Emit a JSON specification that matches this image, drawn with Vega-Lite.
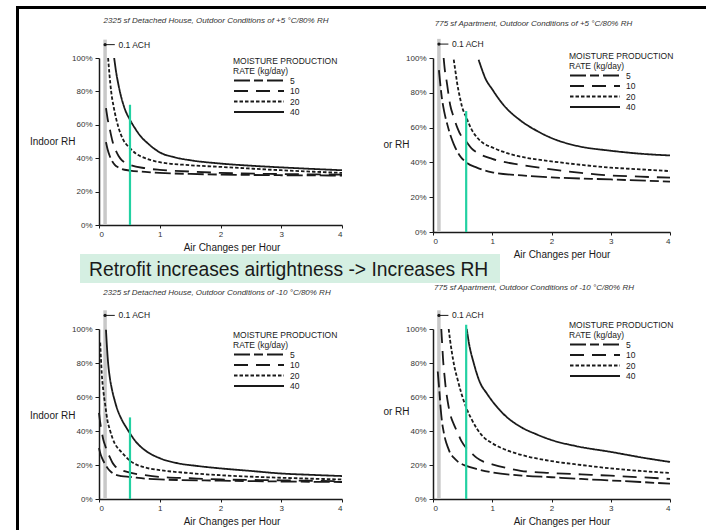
{
"$schema": "https://vega.github.io/schema/vega-lite/v6.json",
"padding": {"left": 16, "top": 6, "right": 0, "bottom": 0},
"background": "white",
"config": {
  "font": "Liberation Sans",
  "view": {"stroke": null},
  "axis": {"grid": false, "labelOverlap": false, "domainColor": "#1a1a1a", "domainWidth": 1.5, "tickColor": "#1a1a1a", "tickWidth": 1, "labelFontSize": 8, "labelColor": "#333333", "titleFontSize": 10, "titleFontWeight": "normal", "titleColor": "#1a1a1a"},
  "axisX": {"tickSize": 3, "labelPadding": 2, "titlePadding": 4},
  "axisY": {"tickSize": 4, "labelPadding": 3, "titleAngle": 0, "titleAlign": "right", "titleBaseline": "middle"},
  "legend": {"orient": "none", "padding": 0, "titleFontSize": 8.5, "titleFontWeight": "normal", "titleColor": "#1a1a1a", "titleLineHeight": 10, "titlePadding": 0, "labelFontSize": 8.5, "labelColor": "#1a1a1a", "labelOffset": 47, "symbolType": "M-1,0H11.5", "symbolSize": 64, "symbolStrokeWidth": 1.8, "symbolStrokeColor": "#1a1a1a", "rowPadding": 0.5},
  "title": {"fontSize": 8, "fontStyle": "italic", "fontWeight": "normal", "color": "#333333", "anchor": "middle", "frame": "group"}
},
"datasets": {
  "p1": [
    {"rate":"40","ach":0.25,"rh":1.0},{"rate":"40","ach":0.28,"rh":0.92},{"rate":"40","ach":0.32,"rh":0.84},{"rate":"40","ach":0.37,"rh":0.76},{"rate":"40","ach":0.43,"rh":0.69},{"rate":"40","ach":0.51,"rh":0.63},{"rate":"40","ach":0.6,"rh":0.575},{"rate":"40","ach":0.7,"rh":0.525},{"rate":"40","ach":0.8,"rh":0.49},{"rate":"40","ach":1.0,"rh":0.435},{"rate":"40","ach":1.25,"rh":0.405},{"rate":"40","ach":1.5,"rh":0.388},{"rate":"40","ach":2.0,"rh":0.368},{"rate":"40","ach":2.5,"rh":0.355},{"rate":"40","ach":3.0,"rh":0.345},{"rate":"40","ach":3.5,"rh":0.336},{"rate":"40","ach":4.0,"rh":0.328},
    {"rate":"20","ach":0.15,"rh":1.0},{"rate":"20","ach":0.17,"rh":0.91},{"rate":"20","ach":0.2,"rh":0.8},{"rate":"20","ach":0.24,"rh":0.71},{"rate":"20","ach":0.28,"rh":0.64},{"rate":"20","ach":0.32,"rh":0.585},{"rate":"20","ach":0.4,"rh":0.51},{"rate":"20","ach":0.51,"rh":0.46},{"rate":"20","ach":0.6,"rh":0.43},{"rate":"20","ach":0.76,"rh":0.4},{"rate":"20","ach":1.0,"rh":0.376},{"rate":"20","ach":1.5,"rh":0.358},{"rate":"20","ach":2.0,"rh":0.348},{"rate":"20","ach":3.0,"rh":0.328},{"rate":"20","ach":4.0,"rh":0.312},
    {"rate":"10","ach":0.115,"rh":0.7},{"rate":"10","ach":0.14,"rh":0.64},{"rate":"10","ach":0.18,"rh":0.57},{"rate":"10","ach":0.22,"rh":0.505},{"rate":"10","ach":0.26,"rh":0.46},{"rate":"10","ach":0.32,"rh":0.415},{"rate":"10","ach":0.37,"rh":0.39},{"rate":"10","ach":0.45,"rh":0.37},{"rate":"10","ach":0.51,"rh":0.36},{"rate":"10","ach":0.76,"rh":0.34},{"rate":"10","ach":1.0,"rh":0.33},{"rate":"10","ach":1.5,"rh":0.32},{"rate":"10","ach":2.0,"rh":0.312},{"rate":"10","ach":3.0,"rh":0.305},{"rate":"10","ach":4.0,"rh":0.302},
    {"rate":"5","ach":0.115,"rh":0.496},{"rate":"5","ach":0.14,"rh":0.455},{"rate":"5","ach":0.18,"rh":0.41},{"rate":"5","ach":0.22,"rh":0.38},{"rate":"5","ach":0.26,"rh":0.36},{"rate":"5","ach":0.32,"rh":0.345},{"rate":"5","ach":0.37,"rh":0.336},{"rate":"5","ach":0.51,"rh":0.326},{"rate":"5","ach":0.76,"rh":0.318},{"rate":"5","ach":1.0,"rh":0.312},{"rate":"5","ach":1.5,"rh":0.306},{"rate":"5","ach":2.0,"rh":0.302},{"rate":"5","ach":3.0,"rh":0.298},{"rate":"5","ach":4.0,"rh":0.296}
  ],
  "p2": [
    {"rate":"40","ach":0.77,"rh":0.99},{"rate":"40","ach":0.82,"rh":0.94},{"rate":"40","ach":0.88,"rh":0.886},{"rate":"40","ach":1.0,"rh":0.82},{"rate":"40","ach":1.19,"rh":0.73},{"rate":"40","ach":1.48,"rh":0.64},{"rate":"40","ach":1.76,"rh":0.58},{"rate":"40","ach":2.0,"rh":0.54},{"rate":"40","ach":2.43,"rh":0.495},{"rate":"40","ach":3.0,"rh":0.467},{"rate":"40","ach":3.5,"rh":0.45},{"rate":"40","ach":4.0,"rh":0.44},
    {"rate":"20","ach":0.35,"rh":0.99},{"rate":"20","ach":0.38,"rh":0.92},{"rate":"20","ach":0.41,"rh":0.85},{"rate":"20","ach":0.45,"rh":0.78},{"rate":"20","ach":0.49,"rh":0.72},{"rate":"20","ach":0.56,"rh":0.66},{"rate":"20","ach":0.65,"rh":0.59},{"rate":"20","ach":0.74,"rh":0.545},{"rate":"20","ach":0.85,"rh":0.51},{"rate":"20","ach":1.0,"rh":0.486},{"rate":"20","ach":1.3,"rh":0.448},{"rate":"20","ach":1.6,"rh":0.425},{"rate":"20","ach":2.0,"rh":0.406},{"rate":"20","ach":2.5,"rh":0.386},{"rate":"20","ach":3.0,"rh":0.37},{"rate":"20","ach":3.5,"rh":0.36},{"rate":"20","ach":4.0,"rh":0.35},
    {"rate":"10","ach":0.18,"rh":1.0},{"rate":"10","ach":0.2,"rh":0.93},{"rate":"10","ach":0.23,"rh":0.867},{"rate":"10","ach":0.29,"rh":0.73},{"rate":"10","ach":0.35,"rh":0.66},{"rate":"10","ach":0.41,"rh":0.6},{"rate":"10","ach":0.48,"rh":0.55},{"rate":"10","ach":0.56,"rh":0.52},{"rate":"10","ach":0.65,"rh":0.48},{"rate":"10","ach":0.74,"rh":0.457},{"rate":"10","ach":1.0,"rh":0.42},{"rate":"10","ach":1.5,"rh":0.385},{"rate":"10","ach":2.0,"rh":0.36},{"rate":"10","ach":2.5,"rh":0.34},{"rate":"10","ach":3.0,"rh":0.325},{"rate":"10","ach":3.5,"rh":0.318},{"rate":"10","ach":4.0,"rh":0.312},
    {"rate":"5","ach":0.1,"rh":0.93},{"rate":"5","ach":0.12,"rh":0.86},{"rate":"5","ach":0.15,"rh":0.77},{"rate":"5","ach":0.19,"rh":0.69},{"rate":"5","ach":0.24,"rh":0.62},{"rate":"5","ach":0.3,"rh":0.55},{"rate":"5","ach":0.35,"rh":0.505},{"rate":"5","ach":0.45,"rh":0.44},{"rate":"5","ach":0.56,"rh":0.4},{"rate":"5","ach":0.74,"rh":0.37},{"rate":"5","ach":1.0,"rh":0.343},{"rate":"5","ach":1.5,"rh":0.325},{"rate":"5","ach":2.0,"rh":0.314},{"rate":"5","ach":3.0,"rh":0.302},{"rate":"5","ach":4.0,"rh":0.29}
  ],
  "p3": [
    {"rate":"40","ach":0.115,"rh":0.996},{"rate":"40","ach":0.13,"rh":0.9},{"rate":"40","ach":0.15,"rh":0.8},{"rate":"40","ach":0.18,"rh":0.71},{"rate":"40","ach":0.21,"rh":0.65},{"rate":"40","ach":0.25,"rh":0.59},{"rate":"40","ach":0.29,"rh":0.54},{"rate":"40","ach":0.37,"rh":0.47},{"rate":"40","ach":0.45,"rh":0.42},{"rate":"40","ach":0.51,"rh":0.386},{"rate":"40","ach":0.6,"rh":0.34},{"rate":"40","ach":0.76,"rh":0.286},{"rate":"40","ach":1.0,"rh":0.24},{"rate":"40","ach":1.3,"rh":0.21},{"rate":"40","ach":1.6,"rh":0.195},{"rate":"40","ach":2.0,"rh":0.18},{"rate":"40","ach":2.5,"rh":0.165},{"rate":"40","ach":3.0,"rh":0.15},{"rate":"40","ach":3.5,"rh":0.142},{"rate":"40","ach":4.0,"rh":0.135},
    {"rate":"20","ach":0.02,"rh":0.92},{"rate":"20","ach":0.045,"rh":0.74},{"rate":"20","ach":0.07,"rh":0.64},{"rate":"20","ach":0.1,"rh":0.56},{"rate":"20","ach":0.14,"rh":0.46},{"rate":"20","ach":0.18,"rh":0.406},{"rate":"20","ach":0.22,"rh":0.36},{"rate":"20","ach":0.26,"rh":0.326},{"rate":"20","ach":0.32,"rh":0.295},{"rate":"20","ach":0.37,"rh":0.276},{"rate":"20","ach":0.45,"rh":0.245},{"rate":"20","ach":0.51,"rh":0.225},{"rate":"20","ach":0.6,"rh":0.205},{"rate":"20","ach":0.76,"rh":0.185},{"rate":"20","ach":1.0,"rh":0.17},{"rate":"20","ach":1.5,"rh":0.152},{"rate":"20","ach":2.0,"rh":0.14},{"rate":"20","ach":3.0,"rh":0.125},{"rate":"20","ach":4.0,"rh":0.115},
    {"rate":"10","ach":0.0,"rh":0.507},{"rate":"10","ach":0.02,"rh":0.45},{"rate":"10","ach":0.045,"rh":0.396},{"rate":"10","ach":0.07,"rh":0.35},{"rate":"10","ach":0.1,"rh":0.316},{"rate":"10","ach":0.14,"rh":0.275},{"rate":"10","ach":0.18,"rh":0.245},{"rate":"10","ach":0.22,"rh":0.215},{"rate":"10","ach":0.26,"rh":0.195},{"rate":"10","ach":0.37,"rh":0.17},{"rate":"10","ach":0.51,"rh":0.155},{"rate":"10","ach":0.76,"rh":0.14},{"rate":"10","ach":1.0,"rh":0.13},{"rate":"10","ach":1.5,"rh":0.122},{"rate":"10","ach":2.0,"rh":0.115},{"rate":"10","ach":3.0,"rh":0.11},{"rate":"10","ach":4.0,"rh":0.105},
    {"rate":"5","ach":0.0,"rh":0.3},{"rate":"5","ach":0.02,"rh":0.27},{"rate":"5","ach":0.045,"rh":0.245},{"rate":"5","ach":0.07,"rh":0.225},{"rate":"5","ach":0.1,"rh":0.205},{"rate":"5","ach":0.14,"rh":0.182},{"rate":"5","ach":0.18,"rh":0.165},{"rate":"5","ach":0.26,"rh":0.145},{"rate":"5","ach":0.37,"rh":0.135},{"rate":"5","ach":0.51,"rh":0.13},{"rate":"5","ach":0.76,"rh":0.12},{"rate":"5","ach":1.0,"rh":0.115},{"rate":"5","ach":2.0,"rh":0.108},{"rate":"5","ach":3.0,"rh":0.103},{"rate":"5","ach":4.0,"rh":0.1}
  ],
  "p4": [
    {"rate":"40","ach":0.57,"rh":1.0},{"rate":"40","ach":0.6,"rh":0.93},{"rate":"40","ach":0.69,"rh":0.796},{"rate":"40","ach":0.8,"rh":0.68},{"rate":"40","ach":0.9,"rh":0.625},{"rate":"40","ach":1.0,"rh":0.576},{"rate":"40","ach":1.19,"rh":0.5},{"rate":"40","ach":1.48,"rh":0.424},{"rate":"40","ach":1.75,"rh":0.38},{"rate":"40","ach":2.0,"rh":0.347},{"rate":"40","ach":2.43,"rh":0.31},{"rate":"40","ach":3.0,"rh":0.277},{"rate":"40","ach":3.56,"rh":0.242},{"rate":"40","ach":4.0,"rh":0.218},
    {"rate":"20","ach":0.265,"rh":1.0},{"rate":"20","ach":0.29,"rh":0.93},{"rate":"20","ach":0.32,"rh":0.86},{"rate":"20","ach":0.36,"rh":0.78},{"rate":"20","ach":0.41,"rh":0.71},{"rate":"20","ach":0.48,"rh":0.62},{"rate":"20","ach":0.56,"rh":0.538},{"rate":"20","ach":0.65,"rh":0.47},{"rate":"20","ach":0.74,"rh":0.414},{"rate":"20","ach":0.85,"rh":0.365},{"rate":"20","ach":1.0,"rh":0.328},{"rate":"20","ach":1.3,"rh":0.28},{"rate":"20","ach":1.6,"rh":0.25},{"rate":"20","ach":2.0,"rh":0.223},{"rate":"20","ach":2.5,"rh":0.2},{"rate":"20","ach":3.0,"rh":0.18},{"rate":"20","ach":3.5,"rh":0.165},{"rate":"20","ach":4.0,"rh":0.153},
    {"rate":"10","ach":0.14,"rh":1.0},{"rate":"10","ach":0.155,"rh":0.91},{"rate":"10","ach":0.17,"rh":0.82},{"rate":"10","ach":0.19,"rh":0.74},{"rate":"10","ach":0.21,"rh":0.67},{"rate":"10","ach":0.25,"rh":0.57},{"rate":"10","ach":0.29,"rh":0.5},{"rate":"10","ach":0.35,"rh":0.44},{"rate":"10","ach":0.41,"rh":0.395},{"rate":"10","ach":0.48,"rh":0.34},{"rate":"10","ach":0.56,"rh":0.3},{"rate":"10","ach":0.65,"rh":0.27},{"rate":"10","ach":0.74,"rh":0.242},{"rate":"10","ach":0.85,"rh":0.22},{"rate":"10","ach":1.0,"rh":0.204},{"rate":"10","ach":1.25,"rh":0.182},{"rate":"10","ach":1.48,"rh":0.166},{"rate":"10","ach":2.0,"rh":0.153},{"rate":"10","ach":2.5,"rh":0.145},{"rate":"10","ach":3.0,"rh":0.137},{"rate":"10","ach":3.5,"rh":0.128},{"rate":"10","ach":4.0,"rh":0.118},
    {"rate":"5","ach":0.08,"rh":0.75},{"rate":"5","ach":0.11,"rh":0.624},{"rate":"5","ach":0.13,"rh":0.53},{"rate":"5","ach":0.15,"rh":0.46},{"rate":"5","ach":0.18,"rh":0.395},{"rate":"5","ach":0.21,"rh":0.347},{"rate":"5","ach":0.25,"rh":0.305},{"rate":"5","ach":0.29,"rh":0.27},{"rate":"5","ach":0.35,"rh":0.243},{"rate":"5","ach":0.41,"rh":0.223},{"rate":"5","ach":0.48,"rh":0.207},{"rate":"5","ach":0.56,"rh":0.195},{"rate":"5","ach":0.74,"rh":0.176},{"rate":"5","ach":1.0,"rh":0.156},{"rate":"5","ach":1.5,"rh":0.138},{"rate":"5","ach":2.0,"rh":0.128},{"rate":"5","ach":2.5,"rh":0.118},{"rate":"5","ach":3.0,"rh":0.109},{"rate":"5","ach":3.5,"rh":0.1},{"rate":"5","ach":4.0,"rh":0.09}
  ]
},
"columns": 7,
"spacing": 0,
"bounds": "flush",
"resolve": {"scale": {"strokeDash": "independent"}, "legend": {"strokeDash": "independent"}},
"concat": [
  {"width": 3, "height": 3, "view": {"fill": "#000000"}, "data": {"values": []}, "mark": "point"},
  {"width": 61, "height": 3, "view": {"fill": "#000000"}, "data": {"values": []}, "mark": "point"},
  {"width": 19, "height": 3, "view": {"fill": "#000000"}, "data": {"values": []}, "mark": "point"},
  {"width": 243, "height": 3, "view": {"fill": "#000000"}, "data": {"values": []}, "mark": "point"},
  {"width": 91, "height": 3, "view": {"fill": "#000000"}, "data": {"values": []}, "mark": "point"},
  {"width": 237, "height": 3, "view": {"fill": "#000000"}, "data": {"values": []}, "mark": "point"},
  {"width": 36, "height": 3, "view": {"fill": "#000000"}, "data": {"values": []}, "mark": "point"},

  {"width": 3, "height": 49, "view": {"fill": "#000000"}, "data": {"values": []}, "mark": "point"},
  {"width": 1, "height": 1, "data": {"values": []}, "mark": "point"},
  {"width": 1, "height": 1, "data": {"values": []}, "mark": "point"},
  {"width": 1, "height": 1, "data": {"values": []}, "mark": "point"},
  {"width": 1, "height": 1, "data": {"values": []}, "mark": "point"},
  {"width": 1, "height": 1, "data": {"values": []}, "mark": "point"},
  {"width": 1, "height": 1, "data": {"values": []}, "mark": "point"},

  {"width": 3, "height": 174, "view": {"fill": "#000000"}, "data": {"values": []}, "mark": "point"},
  {"width": 1, "height": 1, "data": {"values": []}, "mark": "point"},
  {"width": 1, "height": 1, "data": {"values": []}, "mark": "point"},
  {"width": 243, "height": 167,
   "title": {"text": "2325 sf Detached House, Outdoor Conditions of +5 °C/80% RH", "offset": 13, "dx": -4.5},
   "layer": [
    {"data": {"values": [{}]}, "mark": {"type": "rule", "color": "#c8c8c8", "strokeWidth": 3.5}, "encoding": {"x": {"datum": 0.1, "type": "quantitative", "scale": {"domain": [0, 4], "nice": false}}, "y": {"datum": 0, "type": "quantitative", "scale": {"domain": [0, 1], "nice": false}}, "y2": {"datum": 1.11}}},
    {"data": {"name": "p1"}, "mark": {"type": "line", "color": "#1a1a1a", "strokeWidth": 1.8, "interpolate": "monotone"},
     "encoding": {
      "x": {"field": "ach", "type": "quantitative", "title": "Air Changes per Hour", "scale": {"domain": [0, 4], "nice": false}, "axis": {"values": [0, 1, 2, 3, 4], "tickCount": 10, "format": "d", "labelOverlap": false, "titleX": 132.5}},
      "y": {"field": "rh", "type": "quantitative", "title": "Indoor RH", "scale": {"domain": [0, 1], "nice": false}, "axis": {"values": [0, 0.2, 0.4, 0.6, 0.8, 1], "tickCount": 10, "format": ".0%", "labelOverlap": false, "titleX": -24, "titleY": 83.7}},
      "strokeDash": {"field": "rate", "type": "nominal", "scale": {"domain": ["5", "10", "20", "40"], "range": [[16, 4, 9, 4], [14, 8], [3.5, 2], [1, 0]]}, "legend": {"title": ["MOISTURE PRODUCTION", "RATE (kg/day)"], "orient": "none", "legendX": 134, "legendY": -1}}
     }},
    {"data": {"values": [{}]}, "mark": {"type": "rule", "color": "#22d1a2", "strokeWidth": 2.2}, "encoding": {"x": {"datum": 0.51, "type": "quantitative"}, "y": {"datum": 0, "type": "quantitative"}, "y2": {"datum": 0.72}}},
    {"data": {"values": [{}]}, "mark": {"type": "rule", "color": "#1a1a1a", "strokeWidth": 1}, "encoding": {"x": {"datum": 0.1, "type": "quantitative"}, "x2": {"datum": 0.26}, "y": {"datum": 1.08, "type": "quantitative"}}},
    {"data": {"values": [{}]}, "mark": {"type": "point", "filled": true, "color": "#1a1a1a", "size": 10, "opacity": 1}, "encoding": {"x": {"datum": 0.1, "type": "quantitative"}, "y": {"datum": 1.08, "type": "quantitative"}}},
    {"data": {"values": [{}]}, "mark": {"type": "text", "align": "left", "baseline": "middle", "fontSize": 8.5, "color": "#1a1a1a"}, "encoding": {"x": {"datum": 0.32, "type": "quantitative"}, "y": {"datum": 1.08, "type": "quantitative"}, "text": {"value": "0.1 ACH"}}}
   ]},
  {"width": 1, "height": 1, "data": {"values": []}, "mark": "point"},
  {"width": 237, "height": 174,
   "title": {"text": "775 sf Apartment, Outdoor Conditions of +5 °C/80% RH", "offset": 9.3, "dx": -18},
   "layer": [
    {"data": {"values": [{}]}, "mark": {"type": "rule", "color": "#c8c8c8", "strokeWidth": 3.5}, "encoding": {"x": {"datum": 0.1, "type": "quantitative", "scale": {"domain": [0, 4], "nice": false}}, "y": {"datum": 0, "type": "quantitative", "scale": {"domain": [0, 1], "nice": false}}, "y2": {"datum": 1.11}}},
    {"data": {"name": "p2"}, "mark": {"type": "line", "color": "#1a1a1a", "strokeWidth": 1.8, "interpolate": "monotone"},
     "encoding": {
      "x": {"field": "ach", "type": "quantitative", "title": "Air Changes per Hour", "scale": {"domain": [0, 4], "nice": false}, "axis": {"values": [0, 1, 2, 3, 4], "tickCount": 10, "format": "d", "labelOverlap": false, "titleX": 128.5}},
      "y": {"field": "rh", "type": "quantitative", "title": "or RH", "scale": {"domain": [0, 1], "nice": false}, "axis": {"values": [0, 0.2, 0.4, 0.6, 0.8, 1], "tickCount": 10, "format": ".0%", "labelOverlap": false, "titleX": -24, "titleY": 86}},
      "strokeDash": {"field": "rate", "type": "nominal", "scale": {"domain": ["5", "10", "20", "40"], "range": [[16, 4, 9, 4], [14, 8], [3.5, 2], [1, 0]]}, "legend": {"title": ["MOISTURE PRODUCTION", "RATE (kg/day)"], "orient": "none", "legendX": 136, "legendY": -6}}
     }},
    {"data": {"values": [{}]}, "mark": {"type": "rule", "color": "#22d1a2", "strokeWidth": 2.2}, "encoding": {"x": {"datum": 0.56, "type": "quantitative"}, "y": {"datum": 0, "type": "quantitative"}, "y2": {"datum": 0.695}}},
    {"data": {"values": [{}]}, "mark": {"type": "rule", "color": "#1a1a1a", "strokeWidth": 1}, "encoding": {"x": {"datum": 0.1, "type": "quantitative"}, "x2": {"datum": 0.26}, "y": {"datum": 1.08, "type": "quantitative"}}},
    {"data": {"values": [{}]}, "mark": {"type": "point", "filled": true, "color": "#1a1a1a", "size": 10, "opacity": 1}, "encoding": {"x": {"datum": 0.1, "type": "quantitative"}, "y": {"datum": 1.08, "type": "quantitative"}}},
    {"data": {"values": [{}]}, "mark": {"type": "text", "align": "left", "baseline": "middle", "fontSize": 8.5, "color": "#1a1a1a"}, "encoding": {"x": {"datum": 0.32, "type": "quantitative"}, "y": {"datum": 1.08, "type": "quantitative"}, "text": {"value": "0.1 ACH"}}}
   ]},
  {"width": 1, "height": 1, "data": {"values": []}, "mark": "point"},

  {"width": 3, "height": 22, "view": {"fill": "#000000"}, "data": {"values": []}, "mark": "point"},
  {"width": 1, "height": 1, "data": {"values": []}, "mark": "point"},
  {"width": 1, "height": 1, "data": {"values": []}, "mark": "point"},
  {"width": 1, "height": 1, "data": {"values": []}, "mark": "point"},
  {"width": 1, "height": 1, "data": {"values": []}, "mark": "point"},
  {"width": 1, "height": 1, "data": {"values": []}, "mark": "point"},
  {"width": 1, "height": 1, "data": {"values": []}, "mark": "point"},

  {"width": 3, "height": 29, "view": {"fill": "#000000"}, "data": {"values": []}, "mark": "point"},
  {"width": 1, "height": 1, "data": {"values": []}, "mark": "point"},
  {"width": 19, "height": 29, "view": {"fill": "#d5efe2"}, "data": {"values": []}, "mark": "point"},
  {"width": 243, "height": 29, "view": {"fill": "#d5efe2"}, "data": {"values": []}, "mark": "point"},
  {"width": 91, "height": 29, "view": {"fill": "#d5efe2"}, "data": {"values": []}, "mark": "point"},
  {"width": 67, "height": 29, "view": {"fill": "#d5efe2"}, "data": {"values": [{}]},
   "mark": {"type": "text", "fontSize": 19.3, "color": "#1a1a1a", "align": "right", "baseline": "middle", "dx": -11.7, "dy": 1},
   "encoding": {"x": {"value": "width"}, "text": {"value": "Retrofit increases airtightness -> Increases RH"}}},
  {"width": 1, "height": 1, "data": {"values": []}, "mark": "point"},

  {"width": 3, "height": 46, "view": {"fill": "#000000"}, "data": {"values": []}, "mark": "point"},
  {"width": 1, "height": 1, "data": {"values": []}, "mark": "point"},
  {"width": 1, "height": 1, "data": {"values": []}, "mark": "point"},
  {"width": 1, "height": 1, "data": {"values": []}, "mark": "point"},
  {"width": 1, "height": 1, "data": {"values": []}, "mark": "point"},
  {"width": 1, "height": 1, "data": {"values": []}, "mark": "point"},
  {"width": 1, "height": 1, "data": {"values": []}, "mark": "point"},

  {"width": 3, "height": 170, "view": {"fill": "#000000"}, "data": {"values": []}, "mark": "point"},
  {"width": 1, "height": 1, "data": {"values": []}, "mark": "point"},
  {"width": 1, "height": 1, "data": {"values": []}, "mark": "point"},
  {"width": 243, "height": 170,
   "title": {"text": "2325 sf Detached House, Outdoor Conditions of -10 °C/80% RH", "offset": 11.7, "dx": -3.5},
   "layer": [
    {"data": {"values": [{}]}, "mark": {"type": "rule", "color": "#c8c8c8", "strokeWidth": 3.5}, "encoding": {"x": {"datum": 0.1, "type": "quantitative", "scale": {"domain": [0, 4], "nice": false}}, "y": {"datum": 0, "type": "quantitative", "scale": {"domain": [0, 1], "nice": false}}, "y2": {"datum": 1.11}}},
    {"data": {"name": "p3"}, "mark": {"type": "line", "color": "#1a1a1a", "strokeWidth": 1.8, "interpolate": "monotone"},
     "encoding": {
      "x": {"field": "ach", "type": "quantitative", "title": "Air Changes per Hour", "scale": {"domain": [0, 4], "nice": false}, "axis": {"values": [0, 1, 2, 3, 4], "tickCount": 10, "format": "d", "labelOverlap": false, "titleX": 132.5}},
      "y": {"field": "rh", "type": "quantitative", "title": "Indoor RH", "scale": {"domain": [0, 1], "nice": false}, "axis": {"values": [0, 0.2, 0.4, 0.6, 0.8, 1], "tickCount": 10, "format": ".0%", "labelOverlap": false, "titleX": -24, "titleY": 86}},
      "strokeDash": {"field": "rate", "type": "nominal", "scale": {"domain": ["5", "10", "20", "40"], "range": [[16, 4, 9, 4], [14, 8], [3.5, 2], [1, 0]]}, "legend": {"title": ["MOISTURE PRODUCTION", "RATE (kg/day)"], "orient": "none", "legendX": 134, "legendY": 2}}
     }},
    {"data": {"values": [{}]}, "mark": {"type": "rule", "color": "#22d1a2", "strokeWidth": 2.2}, "encoding": {"x": {"datum": 0.51, "type": "quantitative"}, "y": {"datum": 0, "type": "quantitative"}, "y2": {"datum": 0.48}}},
    {"data": {"values": [{}]}, "mark": {"type": "rule", "color": "#1a1a1a", "strokeWidth": 1}, "encoding": {"x": {"datum": 0.1, "type": "quantitative"}, "x2": {"datum": 0.26}, "y": {"datum": 1.08, "type": "quantitative"}}},
    {"data": {"values": [{}]}, "mark": {"type": "point", "filled": true, "color": "#1a1a1a", "size": 10, "opacity": 1}, "encoding": {"x": {"datum": 0.1, "type": "quantitative"}, "y": {"datum": 1.08, "type": "quantitative"}}},
    {"data": {"values": [{}]}, "mark": {"type": "text", "align": "left", "baseline": "middle", "fontSize": 8.5, "color": "#1a1a1a"}, "encoding": {"x": {"datum": 0.32, "type": "quantitative"}, "y": {"datum": 1.08, "type": "quantitative"}, "text": {"value": "0.1 ACH"}}}
   ]},
  {"width": 1, "height": 1, "data": {"values": []}, "mark": "point"},
  {"width": 237, "height": 170,
   "title": {"text": "775 sf Apartment, Outdoor Conditions of -10 °C/80% RH", "offset": 16.7, "dx": -17.5},
   "layer": [
    {"data": {"values": [{}]}, "mark": {"type": "rule", "color": "#c8c8c8", "strokeWidth": 3.5}, "encoding": {"x": {"datum": 0.1, "type": "quantitative", "scale": {"domain": [0, 4], "nice": false}}, "y": {"datum": 0, "type": "quantitative", "scale": {"domain": [0, 1], "nice": false}}, "y2": {"datum": 1.11}}},
    {"data": {"name": "p4"}, "mark": {"type": "line", "color": "#1a1a1a", "strokeWidth": 1.8, "interpolate": "monotone"},
     "encoding": {
      "x": {"field": "ach", "type": "quantitative", "title": "Air Changes per Hour", "scale": {"domain": [0, 4], "nice": false}, "axis": {"values": [0, 1, 2, 3, 4], "tickCount": 10, "format": "d", "labelOverlap": false, "titleX": 128.5}},
      "y": {"field": "rh", "type": "quantitative", "title": "or RH", "scale": {"domain": [0, 1], "nice": false}, "axis": {"values": [0, 0.2, 0.4, 0.6, 0.8, 1], "tickCount": 10, "format": ".0%", "labelOverlap": false, "titleX": -24, "titleY": 82}},
      "strokeDash": {"field": "rate", "type": "nominal", "scale": {"domain": ["5", "10", "20", "40"], "range": [[16, 4, 9, 4], [14, 8], [3.5, 2], [1, 0]]}, "legend": {"title": ["MOISTURE PRODUCTION", "RATE (kg/day)"], "orient": "none", "legendX": 136, "legendY": -8}}
     }},
    {"data": {"values": [{}]}, "mark": {"type": "rule", "color": "#22d1a2", "strokeWidth": 2.2}, "encoding": {"x": {"datum": 0.56, "type": "quantitative"}, "y": {"datum": 0, "type": "quantitative"}, "y2": {"datum": 1.025}}},
    {"data": {"values": [{}]}, "mark": {"type": "rule", "color": "#1a1a1a", "strokeWidth": 1}, "encoding": {"x": {"datum": 0.1, "type": "quantitative"}, "x2": {"datum": 0.26}, "y": {"datum": 1.08, "type": "quantitative"}}},
    {"data": {"values": [{}]}, "mark": {"type": "point", "filled": true, "color": "#1a1a1a", "size": 10, "opacity": 1}, "encoding": {"x": {"datum": 0.1, "type": "quantitative"}, "y": {"datum": 1.08, "type": "quantitative"}}},
    {"data": {"values": [{}]}, "mark": {"type": "text", "align": "left", "baseline": "middle", "fontSize": 8.5, "color": "#1a1a1a"}, "encoding": {"x": {"datum": 0.32, "type": "quantitative"}, "y": {"datum": 1.08, "type": "quantitative"}, "text": {"value": "0.1 ACH"}}}
   ]},
  {"width": 1, "height": 1, "data": {"values": []}, "mark": "point"},

  {"width": 3, "height": 31, "view": {"fill": "#000000"}, "data": {"values": []}, "mark": "point"},
  {"width": 1, "height": 1, "data": {"values": []}, "mark": "point"},
  {"width": 1, "height": 1, "data": {"values": []}, "mark": "point"},
  {"width": 1, "height": 1, "data": {"values": []}, "mark": "point"},
  {"width": 1, "height": 1, "data": {"values": []}, "mark": "point"},
  {"width": 1, "height": 1, "data": {"values": []}, "mark": "point"},
  {"width": 1, "height": 1, "data": {"values": []}, "mark": "point"}
]
}
